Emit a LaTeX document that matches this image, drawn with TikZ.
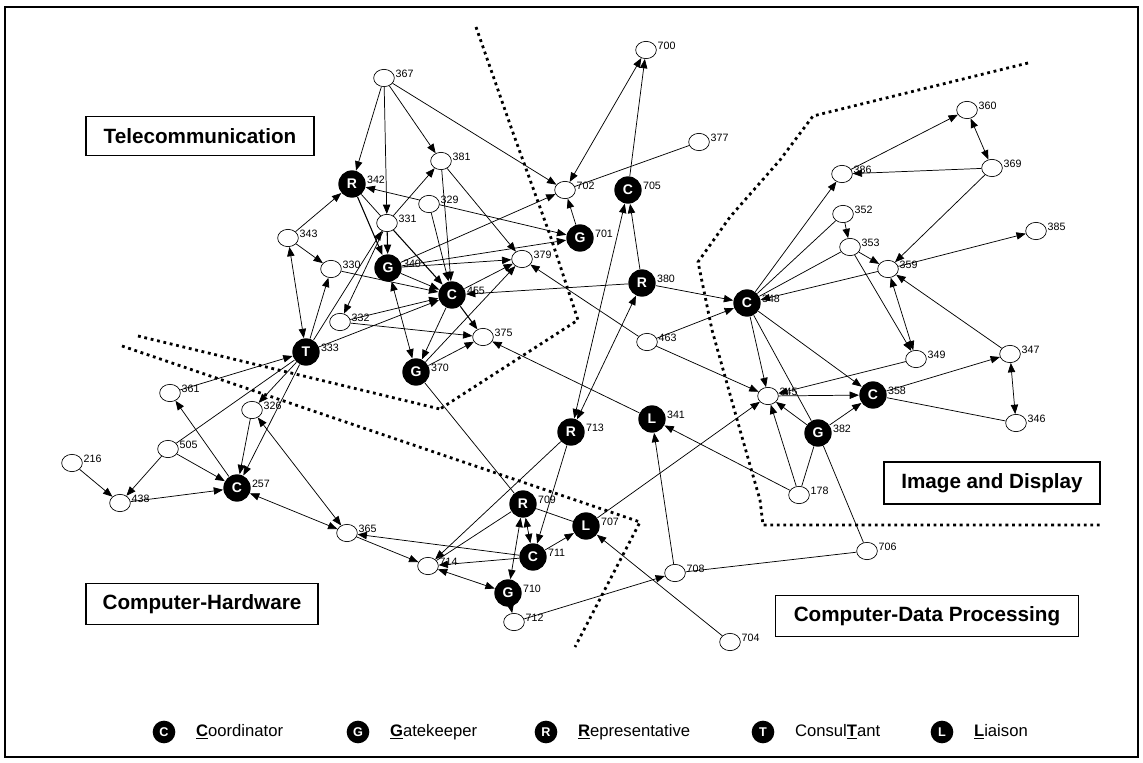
\documentclass[tikz,border=0pt]{standalone}
\usepackage{fontspec}
\setmainfont{Liberation Sans}
\usepackage{tikz}
\usetikzlibrary{shapes,arrows.meta}
\usetikzlibrary{positioning}
\usetikzlibrary{backgrounds}
\newcommand\wnode[2]{%
  \node[wnode,label={[numlbl]east:#1}] (n#1) at (#2) {};
}
\newcommand\rnode[3]{%
  \node[rnode,label={[numlbl]east:#1}] (n#1) at (#3) {#2};
}
\newcommand\legtext[2]{\textbf{\underline{#1}}#2}

\begin{document}
\begin{tikzpicture}[
x=0.75pt, y=-0.75pt,
node distance= 15pt,
>={Triangle[length=7pt,width=5.5pt]},
wnode/.style={
  ellipse,
  draw,
  fill=white,
  line width=0.5pt,
  minimum width=15.5pt,
  minimum height=13pt,
  inner sep=0pt},
rnode/.style={
  circle,
  fill=black,
  text=white,
  minimum size=20.5pt,
  inner sep=0pt,
  font=\bfseries\fontsize{10.5}{10.5}\selectfont},
numlbl/.style={
  inner sep=0.5pt,
  yshift=3pt,
  font=\fontsize{8}{9}\selectfont},
region/.style={
  draw,
  line width=0.9pt,
  fill=white,
  inner sep=0pt,
  font=\bfseries\fontsize{15.5}{18}\selectfont},
legnode/.style={
  circle,
  fill=black,
  text=white,
  minimum size=17pt,
  inner sep=0pt,
  font=\bfseries\fontsize{9.5}{9.5}\selectfont},
legtxt/.style={
  inner sep=0pt,
  font=\fontsize{12.5}{14}\selectfont},
boundary/.style={
  line width=2.1pt,
  dash pattern=on 2.1pt off 2.8pt},
every path/.append style={line width=0.55pt}
]
\useasboundingbox (0,0) rectangle (1143,763);
\draw[line width=0.8pt] (5,7) rectangle (1138,757);

% regions
\node[region,minimum width=171pt,minimum height=29pt] (telecom) at (200,136) {Telecommunication};
\node[region,minimum width=174pt,minimum height=31pt] (hardware) at (202,604) {Computer-Hardware};
\node[region,minimum width=227pt,minimum height=31pt] (dataproc) at (927,616) {Computer-Data Processing};
\node[region,minimum width=162pt,minimum height=31.5pt] (imgdisp) at (992,483) {Image and Display};

% plain persons
\wnode{367}{384,78}
\wnode{381}{441,161}
\wnode{329}{429,204}
\wnode{331}{387,223}
\wnode{343}{288,238}
\wnode{330}{331,269}
\wnode{379}{522,259}
\wnode{332}{340,322}
\wnode{375}{483,337}
\wnode{702}{565,190}
\wnode{700}{646,50}
\wnode{377}{699,142}
\wnode{463}{647,342}
\wnode{386}{842,174}
\wnode{360}{967,110}
\wnode{369}{992,168}
\wnode{352}{843,214}
\wnode{353}{850,247}
\wnode{359}{888,269}
\wnode{385}{1036,231}
\wnode{349}{916,359}
\wnode{347}{1010,354}
\wnode{345}{768,396}
\wnode{346}{1016,423}
\wnode{178}{799,495}
\wnode{706}{867,551}
\wnode{361}{170,393}
\wnode{326}{252,410}
\wnode{505}{168,449}
\wnode{216}{72,463}
\wnode{438}{120,503}
\wnode{365}{347,533}
\wnode{714}{428,566}
\wnode{712}{514,622}
\wnode{708}{675,573}
\wnode{704}{730,642}

% roles
\rnode{342}{R}{352,184}
\rnode{340}{G}{388,268}
\rnode{455}{C}{452,295}
\rnode{333}{T}{306,352}
\rnode{370}{G}{416,372}
\rnode{705}{C}{628,190}
\rnode{701}{G}{580,238}
\rnode{380}{R}{642,283}
\rnode{348}{C}{747,303}
\rnode{358}{C}{873,395}
\rnode{382}{G}{818,433}
\rnode{257}{C}{237,488}
\rnode{713}{R}{571,432}
\rnode{341}{L}{652,419}
\rnode{709}{R}{523,504}
\rnode{707}{L}{586,526}
\rnode{711}{C}{533,557}
\rnode{710}{G}{508,593}

\begin{pgfonlayer}{background}
% boundaries
\draw[boundary] (476,27) -- (512,130) -- (550,235) -- (578,320) -- (440,409);
\draw[boundary] (138,336) -- (440,409);
\draw[boundary] (122,346) -- (640,522) -- (575,647);
\draw[boundary] (1028,63) -- (813,116) -- (780,160) -- (730,217) -- (698,262) -- (712,330) -- (740,430) -- (760,500) -- (763,525) -- (1100,525);

% telecommunication
\draw [->] (n367) to (n342);
\draw [->] (n367) to (n331);
\draw [->] (n367) to (n381);
\draw [->] (n367) to (n702);
\draw [->] (n343) to (n342);
\draw [->,thick] (n342) to (n340);
\draw [-] (n342) to (n331);
\draw [<->] (n342) to (n701);
\draw [->,thick] (n331) to (n340);
\draw [->,thick] (n331) to (n455);
\draw [->] (n331) to (n381);
\draw [->] (n331) to (n332);
\draw [->] (n329) to (n455);
\draw [->] (n381) to (n455);
\draw [->] (n381) to (n379);
\draw [->] (n340) to (n379);
\draw [->] (n455) to (n379);
\draw [->] (n370) to (n379);
\draw [->] (n463) to (n379);
\draw [->] (n340) to (n702);
\draw [->] (n340) to (n701);
\draw [->] (n380) to (n455);
\draw [->,thick] (n455) to (n375);
\draw [->] (n455) to (n370);
\draw [->] (n340) to (n455);
\draw [->] (n330) to (n455);
\draw [->] (n332) to (n455);
\draw [->] (n333) to (n455);
\draw [->] (n332) to (n375);
\draw [->] (n370) to (n375);
\draw [->] (n341) to (n375);
\draw [<->] (n340) to (n370);
\draw [->] (n333) to (n330);
\draw [->] (n343) to (n330);
\draw [<->] (n343) to (n333);
\draw [->] (n333) to (n331);
\draw [-] (n370) to (n709);
\draw [->] (n701) to (n702);
\draw [-] (n377) to (n702);
\draw [<->] (n700) to (n702);
\draw [->] (n705) to (n700);
\draw [->] (n380) to (n705);
\draw [<->] (n705) to (n713);
\draw [<->] (n713) to (n380);

% image and display
\draw [->] (n380) to (n348);
\draw [->] (n463) to (n348);
\draw [->] (n463) to (n345);
\draw [->] (n348) to (n386);
\draw [->] (n386) to (n360);
\draw [<->] (n360) to (n369);
\draw [->] (n369) to (n386);
\draw [->] (n369) to (n359);
\draw [->] (n352) to (n353);
\draw [-] (n348) to (n352);
\draw [-] (n348) to (n353);
\draw [->] (n353) to (n359);
\draw [->] (n359) to (n385);
\draw [->] (n359) to (n348);
\draw [->] (n353) to (n349);
\draw [<->] (n359) to (n349);
\draw [->] (n347) to (n359);
\draw [->] (n348) to (n345);
\draw [->] (n348) to (n358);
\draw [-] (n348) to (n382);
\draw [->] (n345) to (n358);
\draw [->] (n349) to (n345);
\draw [->] (n358) to (n347);
\draw [-] (n358) to (n346);
\draw [<->] (n347) to (n346);
\draw [->] (n382) to (n358);
\draw [->] (n382) to (n345);
\draw [->] (n178) to (n345);
\draw [-] (n178) to (n382);
\draw [-] (n382) to (n706);

% data processing
\draw [->] (n178) to (n341);
\draw [->] (n707) to (n345);
\draw [->] (n708) to (n341);
\draw [-] (n708) to (n706);
\draw [->] (n712) to (n708);
\draw [->] (n704) to (n707);
\draw [-] (n709) to (n707);
\draw [->] (n711) to (n707);
\draw [->] (n713) to (n711);
\draw [->] (n713) to (n714);
\draw [<->] (n709) to (n711);
\draw [<->] (n709) to (n710);
\draw [->] (n711) to (n714);
\draw [<->] (n714) to (n710);
\draw [-] (n709) to (n714);
\draw [->] (n710) to (n712);

% hardware
\draw [->] (n711) to (n365);
\draw [->] (n365) to (n714);
\draw [<->] (n326) to (n365);
\draw [<->] (n257) to (n365);
\draw [->] (n257) to (n361);
\draw [->] (n505) to (n257);
\draw [->] (n505) to (n438);
\draw [->] (n216) to (n438);
\draw [->] (n438) to (n257);
\draw [->] (n326) to (n257);
\draw [->] (n333) to (n257);
\draw [->] (n333) to (n326);
\draw [-] (n333) to (n505);
\draw [->] (n361) to (n333);
\end{pgfonlayer}

% legend
\node[legnode] (legC) at (164,732) {C};
\node[legtxt,right=of legC] (txtC) {\legtext{C}{oordinator}};
\node[legnode] (legG) at (358,732) {G};
\node[legtxt,right=of legG] (txtG) {\legtext{G}{atekeeper}};
\node[legnode] (legR) at (546,732) {R};
\node[legtxt,right=of legR] (txtR) {\legtext{R}{epresentative}};
\node[legnode] (legT) at (763,732) {T};
\node[legtxt,right=of legT] (txtT) {Consul\legtext{T}{ant}};
\node[legnode] (legL) at (942,732) {L};
\node[legtxt,right=of legL] (txtL) {\legtext{L}{iaison}};
\end{tikzpicture}
\end{document}
